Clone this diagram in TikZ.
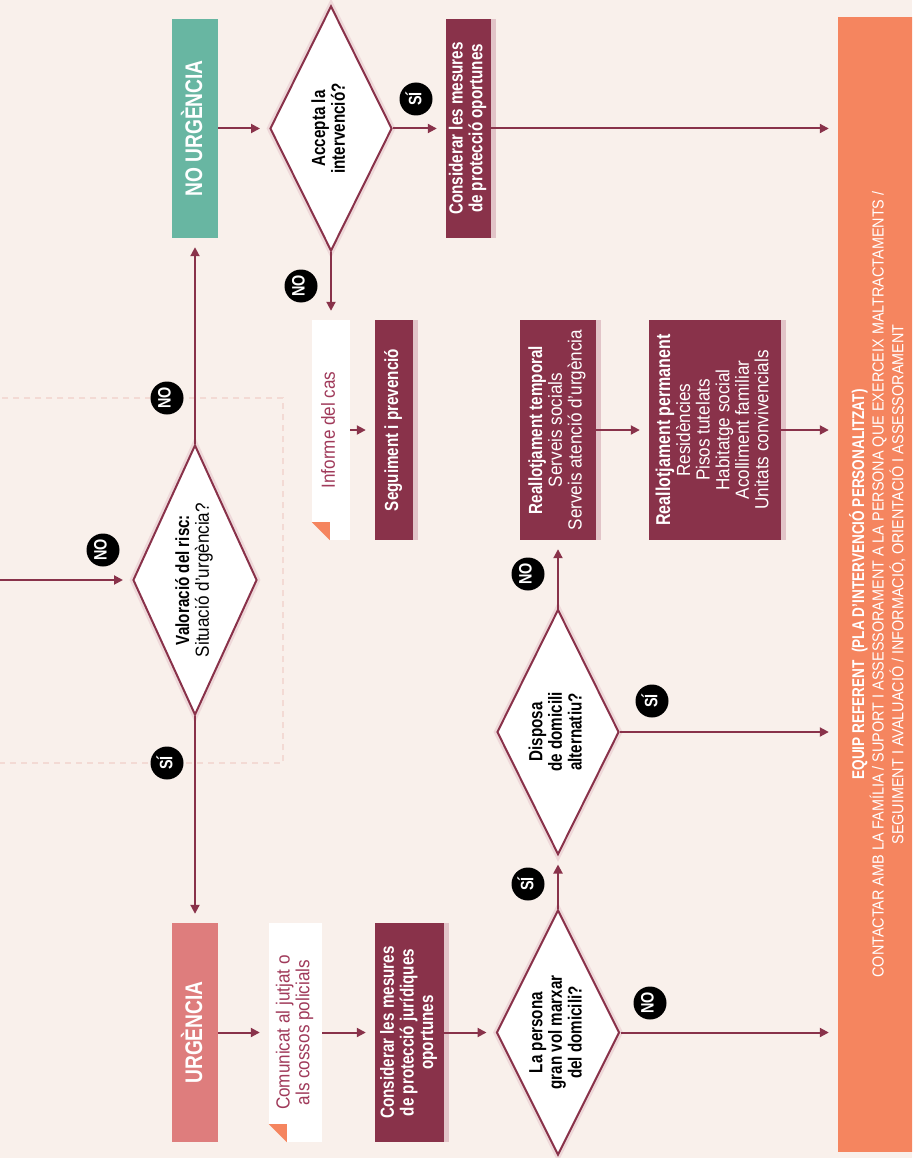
\documentclass[tikz,border=0pt]{standalone}
\usepackage{fontspec}
\setmainfont{Liberation Sans}[FakeStretch=0.9,BoldFeatures={FakeStretch=0.8}]
\usetikzlibrary{shapes.geometric,arrows.meta,shadows}

\definecolor{bgc}{RGB}{249,240,235}
\definecolor{maroon}{RGB}{137,50,74}
\definecolor{stripe}{RGB}{226,196,200}
\definecolor{teal}{RGB}{104,182,162}
\definecolor{salmon}{RGB}{222,125,125}
\definecolor{orangec}{RGB}{245,133,95}
\definecolor{dashc}{RGB}{243,218,212}
\definecolor{glow}{RGB}{232,200,205}
\definecolor{notec}{RGB}{160,58,90}

\newcommand{\vtext}[1]{\rotatebox{90}{\begin{tabular}{@{}c@{}}#1\end{tabular}}}
\newcommand{\flowfont}{\fontsize{19}{19.5}\selectfont}

\tikzset{
  flow/.style={draw=maroon, line width=2pt, -{Triangle[length=9pt,width=9pt]}, shorten >=9pt},
  dashbox/.style={draw=dashc, line width=2pt, dash pattern=on 6pt off 5pt},
  headbox/.style={rectangle, inner sep=0pt, text=white, minimum width=46pt, minimum height=219pt,
    font=\fontsize{24}{24}\selectfont\bfseries},
  darkbox/.style={rectangle, inner sep=0pt, fill=maroon, text=white, minimum height=220pt,
    font=\flowfont\bfseries, general shadow={fill=stripe, shadow xshift=5pt, shadow yshift=0pt}},
  notebox/.style={rectangle, inner sep=0pt, fill=white, text=notec, minimum height=220pt, font=\flowfont},
  decision/.style={diamond, shape aspect=0.5, draw=maroon, line width=2pt, fill=white, inner sep=0pt,
    font=\flowfont\bfseries, preaction={draw=glow, line width=7pt, opacity=0.6}},
  badge/.style={circle, fill=black, text=white, inner sep=0pt, minimum size=33pt,
    font=\fontsize{18}{18}\selectfont\bfseries},
}

\begin{document}
\begin{tikzpicture}[x=1pt,y=-1pt]
  \useasboundingbox (0,0) rectangle (912,1158);
  \clip (0,0) rectangle (912,1158);
  \fill[bgc] (0,0) rectangle (912,1158);
  \draw[dashbox] (-10,398) rectangle (283,763);

  % decisions
  \node[decision, minimum width=124pt, minimum height=270pt] (val) at (195,580)
    {\vtext{Valoració del risc:\\ \mdseries Situació d’urgència?}};
  \node[decision, minimum width=122pt, minimum height=245pt] (acc) at (331,128.5)
    {\vtext{Accepta la\\ intervenció?}};
  \node[decision, minimum width=122pt, minimum height=245pt] (disp) at (558,732)
    {\vtext{Disposa\\ de domicili\\ alternatiu?}};
  \node[decision, minimum width=123pt, minimum height=245pt] (gran) at (558,1032.5)
    {\vtext{La persona\\ gran vol marxar\\ del domicili?}};

  % boxes
  \node[headbox, fill=teal] (nourg) at (195,128.5) {\vtext{NO URGÈNCIA}};
  \node[headbox, fill=salmon] (urg) at (195,1032.5) {\vtext{URGÈNCIA}};
  \node[darkbox, minimum width=45pt, minimum height=219pt] (cons1) at (468.5,128.5)
    {\vtext{Considerar les mesures\\ de protecció oportunes}};
  \node[notebox, minimum width=38pt] (inf) at (331,430) {\vtext{Informe del cas}};
  \node[darkbox, minimum width=38pt] (seg) at (394,430) {\vtext{Seguiment i prevenció}};
  \node[notebox, minimum width=53pt, minimum height=219pt] (com) at (295.5,1032.5)
    {\vtext{Comunicat al jutjat o\\ als cossos policials}};
  \node[darkbox, minimum width=69pt, minimum height=219pt] (cons2) at (409.5,1032.5)
    {\vtext{Considerar les mesures\\ de protecció jurídiques\\ oportunes}};
  \node[darkbox, minimum width=76pt, font=\flowfont] (temp) at (558,430)
    {\vtext{\textbf{Reallotjament temporal}\\ Serveis socials\\ Serveis atenció d’urgència}};
  \node[darkbox, minimum width=132pt, font=\flowfont] (perm) at (715,430)
    {\vtext{\textbf{\fontsize{20}{19}\selectfont Reallotjament permanent}\\ Residències\\ Pisos tutelats\\
      Habitatge social\\ Acolliment familiar\\ Unitats convivencials}};

  % folded corners
  \foreach \n in {inf,com} {
    \fill[bgc] (\n.south west) -- ++(18,0) -- ++(-18,-18) -- cycle;
    \fill[orangec] ([yshift=18pt]\n.south west) -- ++(18,0) -- ++(0,18) -- cycle;
  }

  % team panel
  \node[rectangle, fill=orangec, text=white, inner sep=0pt, minimum width=82pt, minimum height=1135pt,
    font=\fontsize{16}{19}\selectfont] (team) at (879,584.5)
    {\vtext{\textbf{\fontsize{17}{19}\selectfont EQUIP REFERENT\ \ (PLA D’INTERVENCIÓ PERSONALITZAT)}\\
      CONTACTAR AMB LA FAMÍLIA / SUPORT I ASSESSORAMENT A LA PERSONA QUE EXERCEIX MALTRACTAMENTS /\\
      SEGUIMENT I AVALUACIÓ / INFORMACIÓ, ORIENTACIÓ I ASSESSORAMENT}};

  % connectors
  \coordinate (src) at (0,580);
  \draw[flow] (src) -- (val.west);
  \draw[flow] (val.north) -- (nourg.south);
  \draw[flow] (val.south) -- (urg.north);
  \draw[flow] (nourg.east) -- (acc.west);
  \draw[flow] (acc.east) -- (cons1.west);
  \draw[flow] (cons1.east) -- (cons1.east -| team.west);
  \draw[flow] (acc.south) -- (inf.north);
  \draw[flow] (inf.east) -- (seg.west);
  \draw[flow] (urg.east) -- (com.west);
  \draw[flow] (com.east) -- (cons2.west);
  \draw[flow] (cons2.east) -- (gran.west);
  \draw[flow] (gran.east) -- (gran.east -| team.west);
  \draw[flow] (gran.north) -- (disp.south);
  \draw[flow] (disp.east) -- (disp.east -| team.west);
  \draw[flow] (disp.north) -- (temp.south);
  \draw[flow] (temp.east) -- (perm.west);
  \draw[flow] (perm.east) -- (perm.east -| team.west);

  % answers
  \node[badge] (valno) at (103,550) {\vtext{NO}};
  \node[badge] (upno) at (167,398) {\vtext{NO}};
  \node[badge] (downsi) at (167,763) {\vtext{SÍ}};
  \node[badge] (accsi) at (416,99) {\vtext{SÍ}};
  \node[badge] (accno) at (301,286) {\vtext{NO}};
  \node[badge] (dispno) at (528,574) {\vtext{NO}};
  \node[badge] (dispsi) at (652,701) {\vtext{SÍ}};
  \node[badge] (gransi) at (528,884) {\vtext{SÍ}};
  \node[badge] (granno) at (650,1003) {\vtext{NO}};
\end{tikzpicture}
\end{document}
